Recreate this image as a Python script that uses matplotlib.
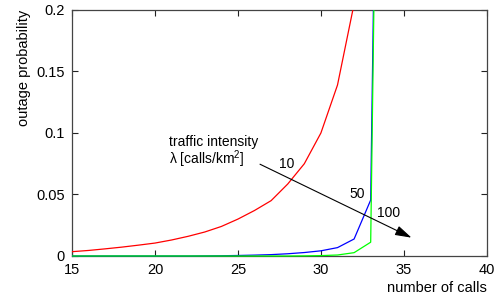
import numpy as np
import matplotlib as mpl
mpl.use('Agg')
from matplotlib import pyplot as plt
from matplotlib.transforms import Bbox, TransformedBbox

plt.rcParams['font.family'] = ['Liberation Sans', 'DejaVu Sans']
plt.rcParams['mathtext.default'] = 'regular'

# number of calls and outage probability for each traffic intensity
calls = [15, 16, 17, 18, 19, 20, 21, 22, 23, 24, 25, 26, 27, 28, 29, 30, 31, 32, 33, 34]
p_10 = [0.0035, 0.0045, 0.0058, 0.0072, 0.0088, 0.0105, 0.013, 0.016, 0.0195, 0.024,
        0.030, 0.037, 0.045, 0.0585, 0.075, 0.100, 0.139, 0.205, 0.32, 1.0]
p_50 = [0, 0, 0, 0, 0, 0, 0, 0, 0.0001, 0.0002,
        0.0004, 0.0007, 0.0011, 0.0018, 0.0028, 0.0042, 0.0068, 0.0138, 0.0455, 1.0]
p_100 = [0, 0, 0, 0, 0, 0, 0, 0, 0, 0,
         0, 0, 0, 0, 0.0001, 0.0003, 0.0008, 0.0027, 0.0112, 1.0]

xticks = [15, 20, 25, 30, 35, 40]
yticks = [0, 0.05, 0.1, 0.15, 0.2]
ytick_labels = ['0', '0.05', '0.1', '0.15', '0.2']

fig = plt.figure(figsize=(4.95, 2.98), dpi=100)
axe = fig.add_axes([0.1455, 0.141, 0.838, 0.8255])

# let the lines sit on top of the bottom axis line like the original
clip = TransformedBbox(Bbox([[15, -0.005], [40, 0.2]]), axe.transData)
for ys, c in [(p_10, '#ff0000'), (p_50, '#0000ff'), (p_100, '#00ff00')]:
    ln, = axe.plot(calls, ys, color=c, linewidth=0.9, zorder=3)
    ln.set_clip_box(clip)

axe.set_xlim(15, 40)
axe.set_ylim(0, 0.2)
axe.set_xticks(xticks)
axe.set_yticks(yticks)
axe.set_yticklabels(ytick_labels)
axe.tick_params(direction='in', top=True, right=True, length=4, width=0.8,
                labelsize=10.5, pad=5, color='#222222')
for s in axe.spines.values():
    s.set_linewidth(0.9)
    s.set_color('#444444')

axe.annotate('', xy=(35.46, 0.0149), xytext=(26.33, 0.0746),
             arrowprops=dict(arrowstyle='-|>,head_length=1.0,head_width=0.3',
                             color='black', lw=0.8, shrinkA=0, shrinkB=0))

font = dict(size=10, color='black')
axe.text(20.85, 0.0925, 'traffic intensity', va='center', ha='left', **font)
axe.text(20.85, 0.0785, '\u03bb [calls/km$^{2}$]', va='center', ha='left', **font)
axe.text(27.5, 0.0745, '10', va='center', ha='left', **font)
axe.text(31.7, 0.050, '50', va='center', ha='left', **font)
axe.text(33.36, 0.035, '100', va='center', ha='left', **font)

axe.set_xlabel('number of calls', fontsize=10.5, loc='right', labelpad=3)
axe.set_ylabel('outage probability', fontsize=10.5, loc='top', labelpad=4)

fig.savefig('out.png', dpi=100)
